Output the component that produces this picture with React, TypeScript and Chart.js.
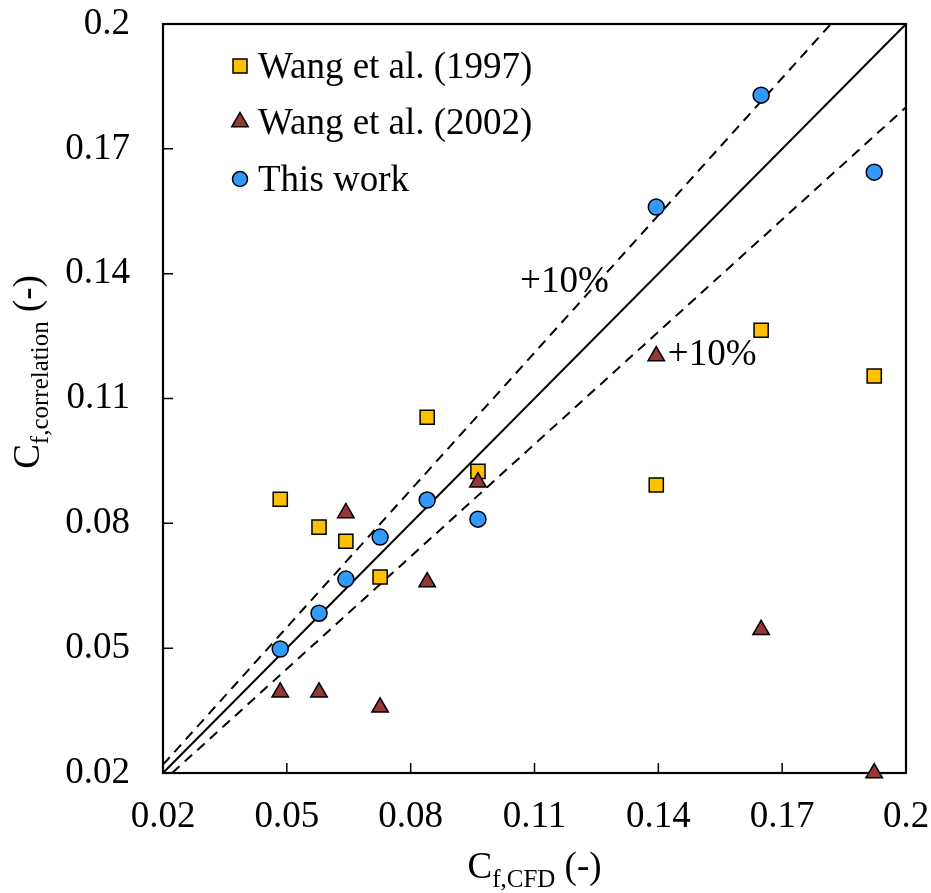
import React, { useEffect, useRef } from 'react';
import { Chart, registerables } from 'chart.js';

Chart.register(...registerables);

const FONT = '"Liberation Serif", "Times New Roman", Times, serif';
const BIG = 37;
const SMALL = 25;

// C_f,CFD values (x) shared by all series
const cfdValues = [0.0484, 0.0578, 0.0643, 0.0726, 0.084, 0.0963, 0.1395, 0.1649, 0.1923];
const wang1997 = [0.0858, 0.0791, 0.0757, 0.0671, 0.1055, 0.0925, 0.0892, 0.1264, 0.1154];
const wang2002 = [0.0394, 0.0394, 0.0825, 0.0358, 0.0659, 0.0899, 0.1202, 0.0544, 0.02];
const thisWork = [0.0498, 0.0584, 0.0666, 0.0767, 0.0856, 0.081, 0.156, 0.1829, 0.1644];

const seriesNames = ['Wang et al. (1997)', 'Wang et al. (2002)', 'This work'];
const seriesColors = ['#FFC000', '#953735', '#3399FF'];
const seriesShapes = ['rect', 'triangle', 'circle'];

const tickValues = [0.02, 0.05, 0.08, 0.11, 0.14, 0.17, 0.2];
const tickLabels = ['0.02', '0.05', '0.08', '0.11', '0.14', '0.17', '0.2'];

const parityX = [0.02, 0.2];
const parityY = [0.02, 0.2];
const upperX = [0.02, 0.1818];
const upperY = [0.022, 0.2];
const lowerX = [0.0222, 0.2];
const lowerY = [0.02, 0.18];

const bandText = ['+10%', '+10%'];
const bandX = [0.1065, 0.1423];
const bandY = [0.138, 0.1205];

const toPoints = (xs: number[], ys: number[]) => xs.map((x, i) => ({ x, y: ys[i] }));

const drawMarker = (ctx: CanvasRenderingContext2D, shape: string, x: number, y: number, color: string) => {
  ctx.save();
  ctx.fillStyle = color;
  ctx.strokeStyle = '#000';
  ctx.lineWidth = 1.5;
  ctx.beginPath();
  if (shape === 'rect') {
    ctx.rect(x - 7, y - 7, 14, 14);
  } else if (shape === 'triangle') {
    const r = 9.5;
    ctx.moveTo(x, y - r);
    ctx.lineTo(x + r * 0.866, y + r / 2);
    ctx.lineTo(x - r * 0.866, y + r / 2);
    ctx.closePath();
  } else {
    ctx.arc(x, y, 7.5, 0, Math.PI * 2);
  }
  ctx.fill();
  ctx.stroke();
  ctx.restore();
};

const drawSubTitle = (
  ctx: CanvasRenderingContext2D,
  main: string,
  sub: string,
  tail: string,
  cx: number,
  baseline: number
) => {
  const big = `${BIG}px ${FONT}`;
  const small = `${SMALL}px ${FONT}`;
  ctx.font = big;
  const w1 = ctx.measureText(main).width;
  const w3 = ctx.measureText(tail).width;
  ctx.font = small;
  const w2 = ctx.measureText(sub).width;
  const total = w1 + w2 + w3;
  let x = cx - total / 2;
  ctx.textAlign = 'left';
  ctx.textBaseline = 'alphabetic';
  ctx.fillStyle = '#000';
  ctx.font = big;
  ctx.fillText(main, x, baseline);
  x += w1;
  ctx.font = small;
  ctx.fillText(sub, x, baseline + 9);
  x += w2;
  ctx.font = big;
  ctx.fillText(tail, x, baseline);
};

const decorPlugin = {
  id: 'decor',
  beforeDatasetsDraw(chart: any) {
    const { ctx, chartArea } = chart;
    const { left, right, top, bottom } = chartArea;
    const xs = chart.scales.x;
    const ys = chart.scales.y;
    ctx.save();
    ctx.strokeStyle = '#000';
    ctx.lineWidth = 1.5;
    ctx.beginPath();
    tickValues.forEach((v) => {
      const px = xs.getPixelForValue(v);
      ctx.moveTo(px, bottom);
      ctx.lineTo(px, bottom - 10);
      const py = ys.getPixelForValue(v);
      ctx.moveTo(left, py);
      ctx.lineTo(left + 10, py);
    });
    ctx.stroke();
    ctx.lineWidth = 2.2;
    ctx.strokeRect(left, top, right - left, bottom - top);
    ctx.restore();
  },
  afterDraw(chart: any) {
    const { ctx, chartArea } = chart;
    const xs = chart.scales.x;
    const ys = chart.scales.y;
    ctx.save();
    // legend
    const legendY = [66, 122, 179];
    seriesNames.forEach((name, i) => {
      drawMarker(ctx, seriesShapes[i], 240, legendY[i], seriesColors[i]);
      ctx.font = `${BIG}px ${FONT}`;
      ctx.fillStyle = '#000';
      ctx.textAlign = 'left';
      ctx.textBaseline = 'alphabetic';
      ctx.fillText(name, 258, legendY[i] + 11.5);
    });
    // band labels
    bandText.forEach((t, i) => {
      ctx.font = `${BIG}px ${FONT}`;
      ctx.fillStyle = '#000';
      ctx.textAlign = 'left';
      ctx.textBaseline = 'middle';
      ctx.fillText(t, xs.getPixelForValue(bandX[i]), ys.getPixelForValue(bandY[i]));
    });
    // axis titles
    drawSubTitle(ctx, 'C', 'f,CFD', ' (-)', (chartArea.left + chartArea.right) / 2, 878);
    ctx.save();
    ctx.translate(39, 372);
    ctx.rotate(-Math.PI / 2);
    drawSubTitle(ctx, 'C', 'f,correlation', ' (-)', 0, 0);
    ctx.restore();
    ctx.restore();
  },
};

const pointDataset = (i: number, ys: number[], order: number, radius: number) => ({
  label: seriesNames[i],
  data: toPoints(cfdValues, ys),
  backgroundColor: seriesColors[i],
  borderColor: '#000',
  borderWidth: 1.5,
  pointStyle: seriesShapes[i],
  pointRadius: radius,
  showLine: false,
  order,
  clip: false,
});

const lineDataset = (xs: number[], ys: number[], dash: number[], order: number) => ({
  label: '',
  data: toPoints(xs, ys),
  borderColor: '#000',
  borderWidth: 2,
  borderDash: dash,
  pointRadius: 0,
  showLine: true,
  fill: false,
  order,
});

export default function App() {
  const canvasRef = useRef<HTMLCanvasElement | null>(null);

  useEffect(() => {
    const canvas = canvasRef.current;
    if (!canvas) return;
    const scaleBase = (size: 'w' | 'h', amount: number) => ({
      type: 'linear' as const,
      min: 0.02,
      max: 0.2,
      grid: { display: false, drawTicks: false },
      border: { display: false },
      afterBuildTicks: (scale: any) => {
        scale.ticks = tickValues.map((v) => ({ value: v }));
      },
      afterFit: (scale: any) => {
        if (size === 'w') scale.width = amount;
        else scale.height = amount;
        scale.paddingTop = 0;
        scale.paddingBottom = 0;
        scale.paddingLeft = 0;
        scale.paddingRight = 0;
      },
    });
    const chart = new Chart(canvas, {
      type: 'scatter',
      data: {
        datasets: [
          pointDataset(2, thisWork, 1, 8),
          pointDataset(1, wang2002, 2, 9.5),
          pointDataset(0, wang1997, 3, 10),
          lineDataset(parityX, parityY, [], 4),
          lineDataset(upperX, upperY, [10, 7], 5),
          lineDataset(lowerX, lowerY, [10, 7], 6),
        ] as any,
      },
      options: {
        responsive: false,
        animation: false,
        devicePixelRatio: 1,
        layout: { padding: { left: 0, right: 25, top: 24, bottom: 0 } },
        plugins: {
          legend: { display: false },
          tooltip: { enabled: false },
        },
        scales: {
          x: {
            ...scaleBase('h', 120),
            position: 'bottom',
            ticks: {
              autoSkip: false,
              maxRotation: 0,
              padding: 22,
              color: '#000',
              font: { family: FONT, size: BIG },
              callback: (_v: any, i: number) => tickLabels[i],
            },
          },
          y: {
            ...scaleBase('w', 163),
            position: 'left',
            ticks: {
              autoSkip: false,
              padding: 33,
              color: '#000',
              font: { family: FONT, size: BIG },
              callback: (_v: any, i: number) => tickLabels[i],
            },
          },
        },
      } as any,
      plugins: [decorPlugin],
    });
    return () => chart.destroy();
  }, []);

  return (
    <div style={{ position: 'absolute', left: 0, top: 0, width: 931, height: 893, background: '#fff' }}>
      <canvas ref={canvasRef} width={931} height={893} style={{ display: 'block' }} />
    </div>
  );
}
